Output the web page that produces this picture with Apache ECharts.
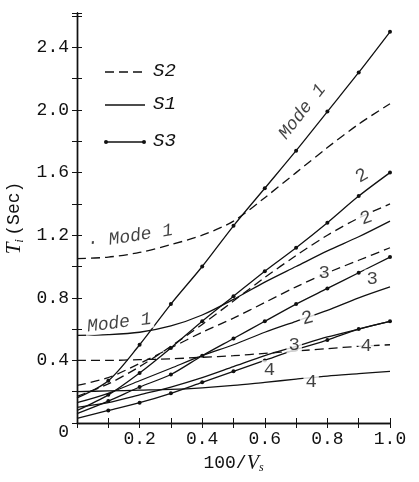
<!DOCTYPE html>
<html>
<head>
<meta charset="utf-8">
<script src="https://cdn.jsdelivr.net/npm/echarts@6/dist/echarts.min.js"></script>
<style>
  html, body { margin: 0; padding: 0; background: #fff; }
  #main { width: 419px; height: 482px; }
</style>
</head>
<body>
<div id="main"></div>
<script>
// x = 100/Vs
const xs = [0, 0.1, 0.2, 0.3, 0.4, 0.5, 0.6, 0.7, 0.8, 0.9, 1.0]

// S2 (dashed)
const s2Mode1 = [1.05, 1.06, 1.09, 1.14, 1.2, 1.29, 1.44, 1.6, 1.76, 1.91, 2.04]
const s2Mode2 = [0.17, 0.25, 0.36, 0.49, 0.63, 0.78, 0.93, 1.07, 1.2, 1.31, 1.4]
const s2Mode3 = [0.24, 0.29, 0.38, 0.48, 0.58, 0.67, 0.77, 0.87, 0.96, 1.04, 1.12]
const s2Mode4 = [0.4, 0.4, 0.405, 0.41, 0.42, 0.43, 0.445, 0.46, 0.475, 0.49, 0.5]
// S1 (solid)
const s1Mode1 = [0.56, 0.565, 0.58, 0.62, 0.69, 0.79, 0.9, 1.0, 1.1, 1.19, 1.29]
const s1Mode2 = [0.13, 0.19, 0.27, 0.35, 0.43, 0.5, 0.58, 0.65, 0.72, 0.8, 0.87]
const s1Mode3 = [0.1, 0.13, 0.18, 0.23, 0.29, 0.36, 0.43, 0.49, 0.55, 0.6, 0.65]
const s1Mode4 = [0.2, 0.205, 0.21, 0.215, 0.225, 0.24, 0.26, 0.28, 0.3, 0.315, 0.33]
// S3 (solid with dots)
const s3Mode1 = [0.16, 0.27, 0.5, 0.76, 1.0, 1.26, 1.5, 1.74, 1.99, 2.24, 2.5]
const s3Mode2 = [0.08, 0.18, 0.32, 0.48, 0.65, 0.81, 0.97, 1.12, 1.28, 1.45, 1.6]
const s3Mode3 = [0.06, 0.14, 0.23, 0.31, 0.43, 0.54, 0.65, 0.76, 0.86, 0.96, 1.06]
const s3Mode4 = [0.03, 0.08, 0.13, 0.19, 0.26, 0.33, 0.4, 0.47, 0.53, 0.6, 0.65]

// curve labels
const labelTexts = ['Mode 1', '· Mode 1', 'Mode 1', '2', '2', '2', '3', '3', '3', '4', '4', '4']
const labelX = [0.72, 0.17, 0.135, 0.91, 0.924, 0.736, 0.79, 0.943, 0.694, 0.924, 0.615, 0.748]
const labelY = [1.99, 1.19, 0.64, 1.58, 1.31, 0.67, 0.96, 0.92, 0.5, 0.49, 0.34, 0.26]
const labelRot = [52, 9, 7, 30, 20, 15, 0, 0, 0, 0, 0, 0]

const mono = 'Liberation Mono'
const ink = '#111'

function pts(ys) {
  return xs.map((x, i) => [x, ys[i]])
}
function dotted(ys) {
  // no dot on the y axis itself
  return xs.map((x, i) => ({ value: [x, ys[i]], symbolSize: i === 0 ? 0 : 4 }))
}
function dashedLine(ys) {
  return {
    type: 'line', data: pts(ys), smooth: 0.3, showSymbol: false, symbol: 'none',
    lineStyle: { color: ink, width: 1.3, type: [9, 5] }, z: 2,
  }
}
function solidLine(ys) {
  return {
    type: 'line', data: pts(ys), smooth: 0.3, showSymbol: false, symbol: 'none',
    lineStyle: { color: ink, width: 1.3 }, z: 2,
  }
}
function dotLine(ys) {
  return {
    type: 'line', data: dotted(ys), smooth: 0.3, symbol: 'circle', showSymbol: true,
    itemStyle: { color: ink }, lineStyle: { color: ink, width: 1.3 }, z: 3,
  }
}

const tickStyle = { show: true, inside: true, length: 5, lineStyle: { color: ink, width: 1 } }
const lineStyleAxis = { show: true, lineStyle: { color: ink, width: 1.4 } }

let myChart = echarts.init(document.getElementById('main'), null, { renderer: 'canvas' })
const option = {
  animation: false,
  backgroundColor: '#fff',
  grid: { left: 77, right: 29, top: 13, bottom: 59, outerBoundsMode: 'none' },
  xAxis: [
    {
      type: 'value', min: 0, max: 1.0, interval: 0.1,
      axisLine: lineStyleAxis, axisTick: tickStyle, splitLine: { show: false },
      axisLabel: {
        margin: 7, color: ink, fontFamily: mono, fontSize: 18,
        formatter: (v) => {
          const k = Math.round(v * 10)
          return k > 0 && k % 2 === 0 ? v.toFixed(1) : ''
        },
      },
      name: '{a|100/}{v|V}{s|s}',
      nameLocation: 'middle', nameGap: 30,
      nameTextStyle: {
        rich: {
          a: { fontFamily: mono, fontSize: 18, color: ink },
          v: { fontFamily: 'Liberation Serif', fontStyle: 'italic', fontSize: 20, color: ink },
          s: { fontFamily: 'Liberation Serif', fontStyle: 'italic', fontSize: 12, color: ink, padding: [9, 0, 0, 0] },
        },
      },
    },
    {
      type: 'value', min: 0, max: 1.0, interval: 0.1, position: 'top',
      axisLine: lineStyleAxis, axisTick: tickStyle, axisLabel: { show: false }, splitLine: { show: false },
    },
  ],
  yAxis: [
    {
      type: 'value', min: 0, max: 2.62, interval: 0.2,
      axisLine: lineStyleAxis, axisTick: tickStyle, splitLine: { show: false },
      axisLabel: {
        margin: 8, color: ink, fontFamily: mono, fontSize: 18,
        formatter: (v) => {
          const k = Math.round(v * 10)
          if (k === 0) return '{low|0}'
          return k % 4 === 0 && Math.abs(v * 10 - k) < 1e-6 ? v.toFixed(1) : ''
        },
        rich: { low: { fontFamily: mono, fontSize: 18, color: ink, padding: [18, 0, 0, 0] } },
      },
      name: '{t|T}{i|i} {a|(Sec)}',
      nameLocation: 'middle', nameGap: 50, nameRotate: 90,
      nameTextStyle: {
        rich: {
          t: { fontFamily: 'Liberation Serif', fontStyle: 'italic', fontSize: 21, color: ink },
          i: { fontFamily: 'Liberation Serif', fontStyle: 'italic', fontSize: 13, color: ink, padding: [9, 0, 0, 0] },
          a: { fontFamily: mono, fontSize: 18, color: ink },
        },
      },
    },
    {
      type: 'value', min: 0, max: 2.62, interval: 0.2, position: 'right',
      axisLine: lineStyleAxis, axisTick: tickStyle, axisLabel: { show: false }, splitLine: { show: false },
    },
  ],
  series: [
    dashedLine(s2Mode1), dashedLine(s2Mode2), dashedLine(s2Mode3), dashedLine(s2Mode4),
    solidLine(s1Mode1), solidLine(s1Mode2), solidLine(s1Mode3), solidLine(s1Mode4),
    dotLine(s3Mode1), dotLine(s3Mode2), dotLine(s3Mode3), dotLine(s3Mode4),
    {
      type: 'scatter', z: 10, symbolSize: 0, silent: true,
      data: labelTexts.map((t, i) => ({
        value: [labelX[i], labelY[i]],
        label: {
          show: true, position: 'inside', formatter: t, rotate: labelRot[i],
          color: ink, fontFamily: mono, fontStyle: t.length > 1 ? 'italic' : 'normal',
          fontSize: t.length > 1 ? 18 : 19, backgroundColor: '#fff', padding: [0, 2],
        },
      })),
    },
  ],
  // legend samples
  graphic: [
    { type: 'line', shape: { x1: 105, y1: 72, x2: 145, y2: 72 }, style: { stroke: ink, lineWidth: 1.3, lineDash: [9, 5] } },
    { type: 'line', shape: { x1: 105, y1: 105, x2: 145, y2: 105 }, style: { stroke: ink, lineWidth: 1.3 } },
    { type: 'line', shape: { x1: 106, y1: 142, x2: 144, y2: 142 }, style: { stroke: ink, lineWidth: 1.3 } },
    { type: 'circle', shape: { cx: 106, cy: 142, r: 2 }, style: { fill: ink } },
    { type: 'circle', shape: { cx: 144, cy: 142, r: 2 }, style: { fill: ink } },
    { type: 'text', left: 153, top: 61, style: { text: 'S2', font: 'italic 19px "Liberation Mono"', fill: ink } },
    { type: 'text', left: 153, top: 94, style: { text: 'S1', font: 'italic 19px "Liberation Mono"', fill: ink } },
    { type: 'text', left: 153, top: 131, style: { text: 'S3', font: 'italic 19px "Liberation Mono"', fill: ink } },
  ],
}
myChart.setOption(option)
</script>
</body>
</html>
